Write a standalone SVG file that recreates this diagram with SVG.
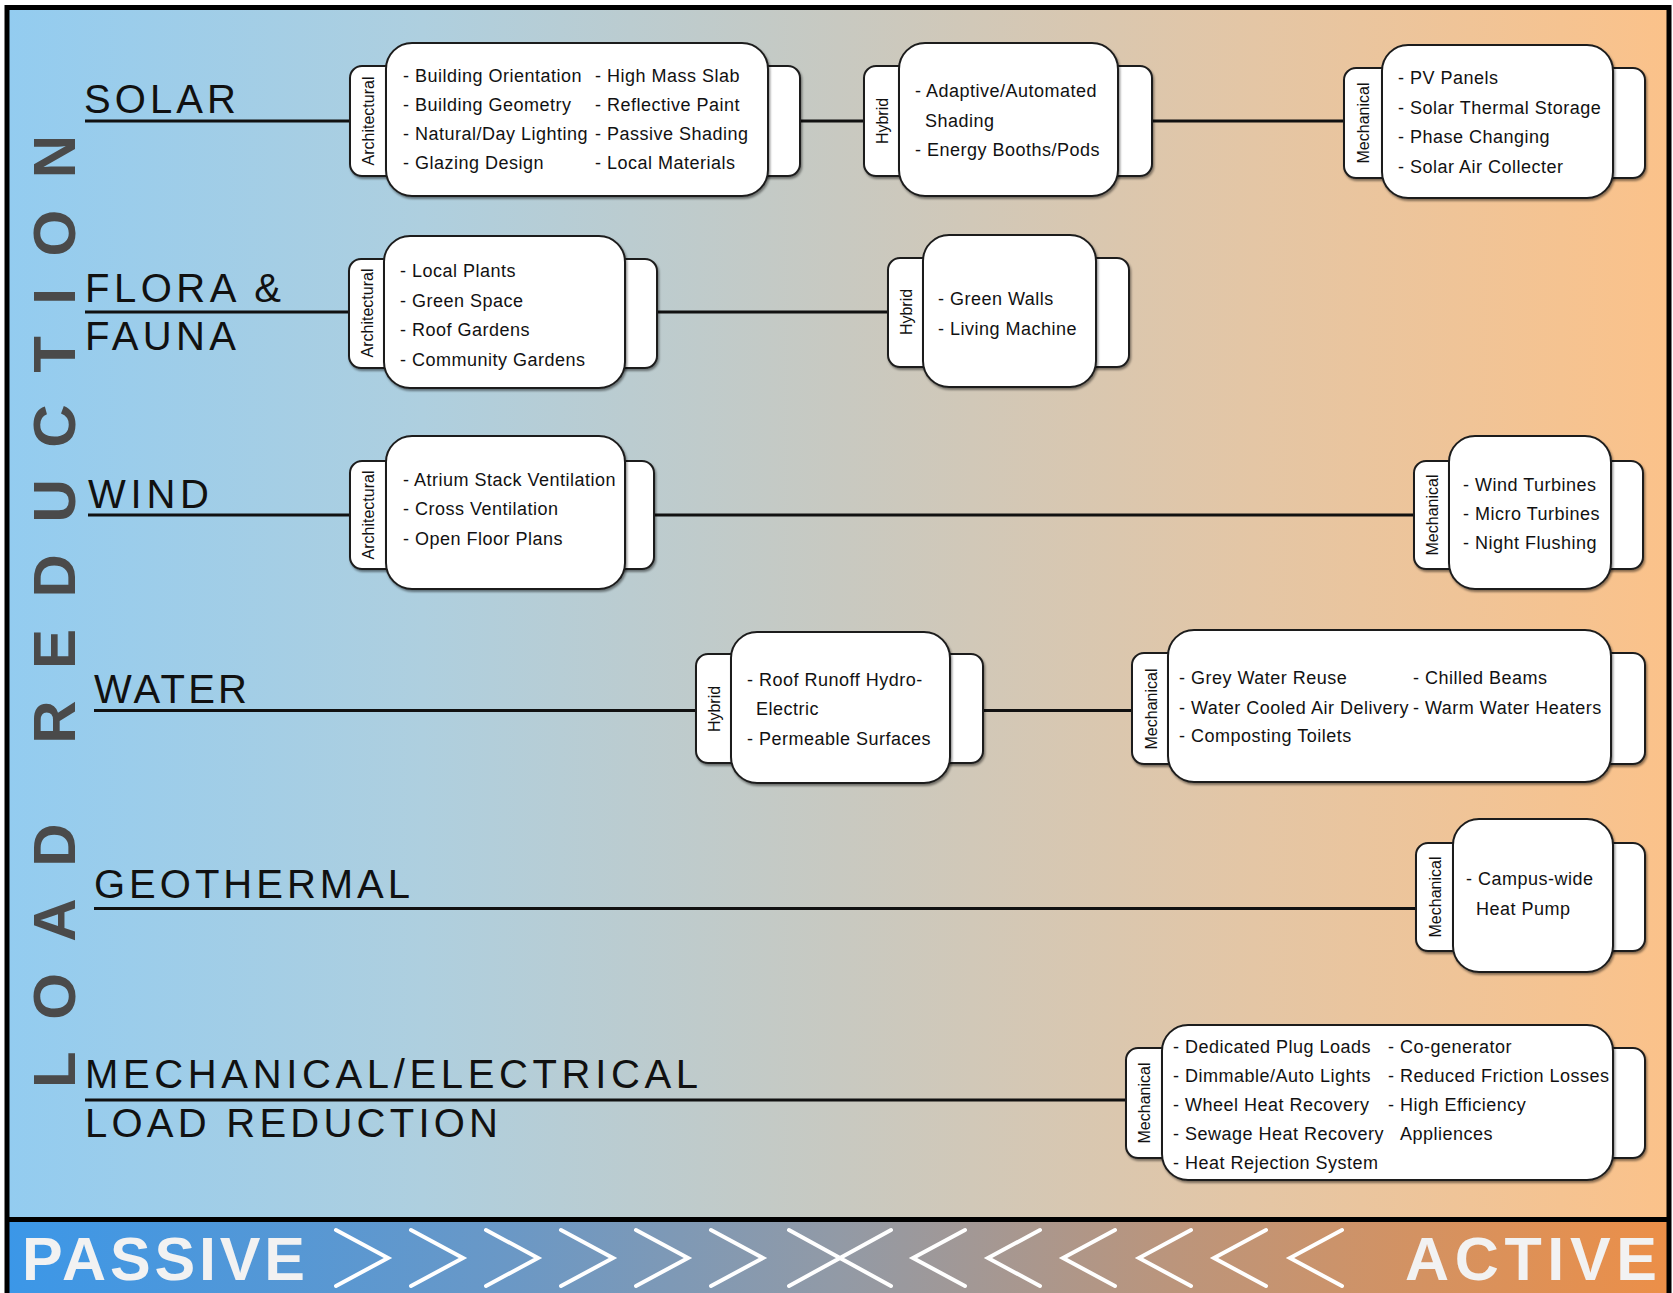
<svg xmlns="http://www.w3.org/2000/svg" width="1673" height="1293" viewBox="0 0 1673 1293">
<defs>
  <linearGradient id="bg" gradientUnits="userSpaceOnUse" x1="7" y1="0" x2="1669" y2="0">
    <stop offset="0" stop-color="#93ccf0"/>
    <stop offset="0.25" stop-color="#aecfdf"/>
    <stop offset="0.5" stop-color="#c8c9c1"/>
    <stop offset="0.75" stop-color="#e4c6a5"/>
    <stop offset="1" stop-color="#fbc28a"/>
  </linearGradient>
  <linearGradient id="bar" gradientUnits="userSpaceOnUse" x1="7" y1="0" x2="1669" y2="0">
    <stop offset="0" stop-color="#3b97e8"/>
    <stop offset="0.3" stop-color="#6a98c6"/>
    <stop offset="0.5" stop-color="#929aa6"/>
    <stop offset="0.7" stop-color="#bb957c"/>
    <stop offset="1" stop-color="#ec8f48"/>
  </linearGradient>
  <filter id="sh" x="-10%" y="-10%" width="120%" height="125%">
    <feDropShadow dx="1.2" dy="2" stdDeviation="0.8" flood-color="#000" flood-opacity="0.45"/>
  </filter>
</defs>
<style>
  .tab { fill:#ffffff; stroke:#1e1e1e; stroke-width:2; filter:url(#sh); }
  .box { fill:#ffffff; stroke:#1e1e1e; stroke-width:2; filter:url(#sh); }
  .t { font-family:"Liberation Sans", Arial, sans-serif; font-size:18px; letter-spacing:0.5px; fill:#111; }
  .tl { font-family:"Liberation Sans", Arial, sans-serif; font-size:16px; fill:#111; text-anchor:middle; }
  .cat { font-family:"Liberation Sans", Arial, sans-serif; font-size:40px; fill:#111; }
  .ln { stroke:#111; stroke-width:3; fill:none; }
  .chev { stroke:#ffffff; stroke-width:4; fill:none; stroke-linecap:round; stroke-linejoin:miter; }
  .big { font-family:"Liberation Sans", Arial, sans-serif; font-weight:bold; font-size:61px; fill:#f2f2f2; }
</style>

<!-- background -->
<rect x="7" y="7" width="1662" height="1213" fill="url(#bg)"/>
<rect x="7" y="1220" width="1662" height="80" fill="url(#bar)"/>

<!-- vertical title -->
<text transform="translate(75,1088) rotate(-90)" font-family="Liberation Sans, Arial, sans-serif" font-weight="bold" font-size="60" fill="#4a4a4a" textLength="953" lengthAdjust="spacing">LOAD REDUCTION</text>

<!-- category labels -->
<g id="labels">
  <text class="cat" x="84" y="113" textLength="152" lengthAdjust="spacing">SOLAR</text>
  <text class="cat" x="85" y="302" textLength="196" lengthAdjust="spacing">FLORA &amp;</text>
  <text class="cat" x="85" y="350" textLength="151" lengthAdjust="spacing">FAUNA</text>
  <text class="cat" x="88" y="508" textLength="121" lengthAdjust="spacing">WIND</text>
  <text class="cat" x="94" y="703" textLength="153" lengthAdjust="spacing">WATER</text>
  <text class="cat" x="94" y="898" textLength="316" lengthAdjust="spacing">GEOTHERMAL</text>
  <text class="cat" x="85" y="1088" textLength="613" lengthAdjust="spacing">MECHANICAL/ELECTRICAL</text>
  <text class="cat" x="85" y="1137" textLength="413" lengthAdjust="spacing">LOAD REDUCTION</text>
</g>

<!-- connectors -->
<g id="connectors">
  <line class="ln" x1="85" y1="121" x2="350" y2="121"/>
  <line class="ln" x1="800" y1="121" x2="864" y2="121"/>
  <line class="ln" x1="1152" y1="121" x2="1344" y2="121"/>
  <line class="ln" x1="85" y1="312" x2="349" y2="312"/>
  <line class="ln" x1="657" y1="312" x2="888" y2="312"/>
  <line class="ln" x1="88" y1="515" x2="350" y2="515"/>
  <line class="ln" x1="654" y1="515" x2="1414" y2="515"/>
  <line class="ln" x1="94" y1="710.5" x2="696" y2="710.5"/>
  <line class="ln" x1="983" y1="710.5" x2="1132" y2="710.5"/>
  <line class="ln" x1="94" y1="908.5" x2="1416" y2="908.5"/>
  <line class="ln" x1="85" y1="1100" x2="1126" y2="1100"/>
</g>

<!-- SOLAR nodes -->
<g id="solar-arch">
  <rect class="tab" x="350" y="66" width="60" height="110" rx="12"/>
  <rect class="tab" x="740" y="66" width="60" height="110" rx="12"/>
  <rect class="box" x="386" y="43" width="382" height="153" rx="26"/>
  <text class="tl" transform="translate(374,121) rotate(-90)">Architectural</text>
  <text class="t" x="403" y="82">- Building Orientation</text>
  <text class="t" x="403" y="111">- Building Geometry</text>
  <text class="t" x="403" y="140">- Natural/Day Lighting</text>
  <text class="t" x="403" y="169">- Glazing Design</text>
  <text class="t" x="595" y="82">- High Mass Slab</text>
  <text class="t" x="595" y="111">- Reflective Paint</text>
  <text class="t" x="595" y="140">- Passive Shading</text>
  <text class="t" x="595" y="169">- Local Materials</text>
</g>
<g id="solar-hybrid">
  <rect class="tab" x="864" y="66" width="60" height="110" rx="12"/>
  <rect class="tab" x="1092" y="66" width="60" height="110" rx="12"/>
  <rect class="box" x="899" y="43" width="219" height="153" rx="26"/>
  <text class="tl" transform="translate(888,121) rotate(-90)">Hybrid</text>
  <text class="t" x="915" y="97">- Adaptive/Automated</text>
  <text class="t" x="925" y="127">Shading</text>
  <text class="t" x="915" y="156">- Energy Booths/Pods</text>
</g>
<g id="solar-mech">
  <rect class="tab" x="1344" y="68" width="60" height="110" rx="12"/>
  <rect class="tab" x="1585" y="68" width="60" height="110" rx="12"/>
  <rect class="box" x="1382" y="45" width="231" height="153" rx="26"/>
  <text class="tl" transform="translate(1369,123) rotate(-90)">Mechanical</text>
  <text class="t" x="1398" y="84">- PV Panels</text>
  <text class="t" x="1398" y="114">- Solar Thermal Storage</text>
  <text class="t" x="1398" y="143">- Phase Changing</text>
  <text class="t" x="1398" y="173">- Solar Air Collecter</text>
</g>

<!-- FLORA & FAUNA nodes -->
<g id="flora-arch">
  <rect class="tab" x="349" y="259" width="60" height="109" rx="12"/>
  <rect class="tab" x="597" y="259" width="60" height="109" rx="12"/>
  <rect class="box" x="384" y="236" width="241" height="152" rx="26"/>
  <text class="tl" transform="translate(373,313) rotate(-90)">Architectural</text>
  <text class="t" x="400" y="277">- Local Plants</text>
  <text class="t" x="400" y="307">- Green Space</text>
  <text class="t" x="400" y="336">- Roof Gardens</text>
  <text class="t" x="400" y="366">- Community Gardens</text>
</g>
<g id="flora-hybrid">
  <rect class="tab" x="888" y="258" width="60" height="109" rx="12"/>
  <rect class="tab" x="1069" y="258" width="60" height="109" rx="12"/>
  <rect class="box" x="923" y="235" width="173" height="152" rx="26"/>
  <text class="tl" transform="translate(912,312) rotate(-90)">Hybrid</text>
  <text class="t" x="938" y="305">- Green Walls</text>
  <text class="t" x="938" y="335">- Living Machine</text>
</g>

<!-- WIND nodes -->
<g id="wind-arch">
  <rect class="tab" x="350" y="461" width="60" height="108" rx="12"/>
  <rect class="tab" x="594" y="461" width="60" height="108" rx="12"/>
  <rect class="box" x="386" y="436" width="239" height="153" rx="26"/>
  <text class="tl" transform="translate(374,515) rotate(-90)">Architectural</text>
  <text class="t" x="403" y="486">- Atrium Stack Ventilation</text>
  <text class="t" x="403" y="515">- Cross Ventilation</text>
  <text class="t" x="403" y="545">- Open Floor Plans</text>
</g>
<g id="wind-mech">
  <rect class="tab" x="1414" y="461" width="60" height="108" rx="12"/>
  <rect class="tab" x="1583" y="461" width="60" height="108" rx="12"/>
  <rect class="box" x="1449" y="436" width="162" height="153" rx="26"/>
  <text class="tl" transform="translate(1438,515) rotate(-90)">Mechanical</text>
  <text class="t" x="1463" y="491">- Wind Turbines</text>
  <text class="t" x="1463" y="520">- Micro Turbines</text>
  <text class="t" x="1463" y="549">- Night Flushing</text>
</g>

<!-- WATER nodes -->
<g id="water-hybrid">
  <rect class="tab" x="696" y="654" width="60" height="109" rx="12"/>
  <rect class="tab" x="923" y="654" width="60" height="109" rx="12"/>
  <rect class="box" x="731" y="632" width="219" height="151" rx="26"/>
  <text class="tl" transform="translate(720,709) rotate(-90)">Hybrid</text>
  <text class="t" x="747" y="686">- Roof Runoff Hydro-</text>
  <text class="t" x="756" y="715">Electric</text>
  <text class="t" x="747" y="745">- Permeable Surfaces</text>
</g>
<g id="water-mech">
  <rect class="tab" x="1132" y="653" width="60" height="111" rx="12"/>
  <rect class="tab" x="1585" y="653" width="60" height="111" rx="12"/>
  <rect class="box" x="1168" y="630" width="443" height="152" rx="26"/>
  <text class="tl" transform="translate(1157,709) rotate(-90)">Mechanical</text>
  <text class="t" x="1179" y="684">- Grey Water Reuse</text>
  <text class="t" x="1179" y="714">- Water Cooled Air Delivery</text>
  <text class="t" x="1179" y="742">- Composting Toilets</text>
  <text class="t" x="1413" y="684">- Chilled Beams</text>
  <text class="t" x="1413" y="714">- Warm Water Heaters</text>
</g>

<!-- GEOTHERMAL node -->
<g id="geo-mech">
  <rect class="tab" x="1416" y="843" width="60" height="108" rx="12"/>
  <rect class="tab" x="1585" y="843" width="60" height="108" rx="12"/>
  <rect class="box" x="1453" y="819" width="160" height="153" rx="26"/>
  <text class="tl" transform="translate(1441,897) rotate(-90)">Mechanical</text>
  <text class="t" x="1466" y="885">- Campus-wide</text>
  <text class="t" x="1476" y="915">Heat Pump</text>
</g>

<!-- MECHANICAL / ELECTRICAL node -->
<g id="me-mech">
  <rect class="tab" x="1126" y="1048" width="60" height="110" rx="12"/>
  <rect class="tab" x="1585" y="1048" width="60" height="110" rx="12"/>
  <rect class="box" x="1162" y="1025" width="451" height="155" rx="26"/>
  <text class="tl" transform="translate(1150,1103) rotate(-90)">Mechanical</text>
  <text class="t" x="1173" y="1053">- Dedicated Plug Loads</text>
  <text class="t" x="1173" y="1082">- Dimmable/Auto Lights</text>
  <text class="t" x="1173" y="1111">- Wheel Heat Recovery</text>
  <text class="t" x="1173" y="1140">- Sewage Heat Recovery</text>
  <text class="t" x="1173" y="1169">- Heat Rejection System</text>
  <text class="t" x="1388" y="1053">- Co-generator</text>
  <text class="t" x="1388" y="1082">- Reduced Friction Losses</text>
  <text class="t" x="1388" y="1111">- High Efficiency</text>
  <text class="t" x="1400" y="1140">Appliences</text>
</g>

<!-- bottom bar -->
<g id="bar-scale">
  <text class="big" x="22" y="1280" textLength="283" lengthAdjust="spacing">PASSIVE</text>
  <text class="big" x="1405" y="1280" textLength="252" lengthAdjust="spacing">ACTIVE</text>
  <path class="chev" d="M336 1230 L388 1258 L336 1286"/>
  <path class="chev" d="M411 1230 L463 1258 L411 1286"/>
  <path class="chev" d="M486 1230 L538 1258 L486 1286"/>
  <path class="chev" d="M561 1230 L613 1258 L561 1286"/>
  <path class="chev" d="M636 1230 L688 1258 L636 1286"/>
  <path class="chev" d="M711 1230 L763 1258 L711 1286"/>
  <path class="chev" d="M789 1230 L891 1286 M891 1230 L789 1286"/>
  <path class="chev" d="M965 1230 L913 1258 L965 1286"/>
  <path class="chev" d="M1040 1230 L988 1258 L1040 1286"/>
  <path class="chev" d="M1115 1230 L1063 1258 L1115 1286"/>
  <path class="chev" d="M1191 1230 L1139 1258 L1191 1286"/>
  <path class="chev" d="M1266 1230 L1214 1258 L1266 1286"/>
  <path class="chev" d="M1342 1230 L1290 1258 L1342 1286"/>
</g>

<!-- frame -->
<line x1="7" y1="1219.5" x2="1669" y2="1219.5" stroke="#000" stroke-width="5"/>
<rect x="7" y="7.5" width="1662" height="1300" fill="none" stroke="#000" stroke-width="5"/>
</svg>
